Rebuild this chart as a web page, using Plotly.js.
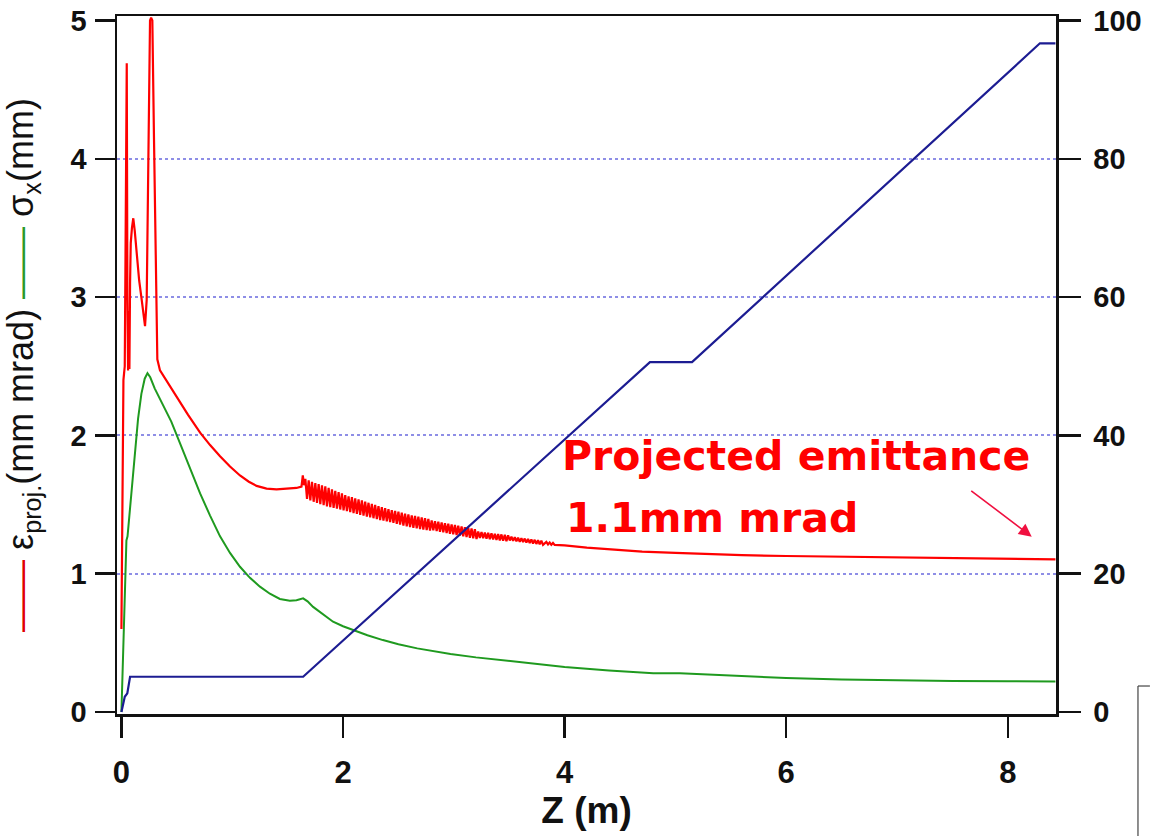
<!DOCTYPE html>
<html>
<head>
<meta charset="utf-8">
<script src="https://cdn.plot.ly/plotly-3.0.1.min.js"></script>
<style>html,body{margin:0;padding:0;background:#fff;}#chart{width:1150px;height:836px;}</style>
</head>
<body>
<div id="chart"></div>
<script>
// ---- data ----
// projected emittance (mm mrad), left axis
const zEps = [0, 0.005, 0.012, 0.018, 0.024, 0.03, 0.036, 0.042, 0.048, 0.054, 0.06, 0.066, 0.072, 0.078, 0.084, 0.095, 0.107, 0.12, 0.138, 0.16, 0.183, 0.2, 0.213, 0.228, 0.243, 0.258, 0.268, 0.279, 0.294, 0.312, 0.324, 0.348, 0.42, 0.5, 0.6, 0.71, 0.8, 0.89, 0.98, 1.07, 1.15, 1.22, 1.31, 1.4, 1.5, 1.58, 1.625, 1.637, 1.648,
  1.660, 1.675, 1.690, 1.705, 1.720, 1.735, 1.750, 1.765, 1.780, 1.795, 1.810, 1.825, 1.840, 1.855, 1.870, 1.885, 1.900, 1.915, 1.930, 1.945, 1.960, 1.975, 1.990, 2.005, 2.020, 2.035, 2.050, 2.065, 2.080, 2.095, 2.110, 2.125, 2.140, 2.155, 2.170, 2.185, 2.200, 2.215, 2.230, 2.245, 2.260, 2.275, 2.290, 2.305, 2.320, 2.335, 2.350, 2.365, 2.380, 2.395, 2.410, 2.425, 2.440, 2.455, 2.470, 2.485, 2.500, 2.515, 2.530, 2.545, 2.560, 2.575, 2.590, 2.605, 2.620, 2.635, 2.650, 2.665, 2.680, 2.695, 2.710, 2.725, 2.740, 2.755, 2.770, 2.785, 2.800, 2.815, 2.830, 2.845, 2.860, 2.875, 2.890, 2.905, 2.920, 2.935, 2.950, 2.965, 2.980, 2.995, 3.010, 3.025, 3.040, 3.055, 3.070, 3.085, 3.100, 3.115, 3.130, 3.145, 3.160, 3.175, 3.190, 3.205, 3.220, 3.235, 3.250, 3.265, 3.280, 3.295, 3.310, 3.325, 3.340, 3.355, 3.370, 3.385, 3.400, 3.415, 3.430, 3.445, 3.460, 3.475, 3.490, 3.505, 3.520, 3.535, 3.550, 3.565, 3.580, 3.595, 3.610, 3.625, 3.640, 3.655, 3.670, 3.685, 3.700, 3.715, 3.730, 3.745, 3.760, 3.775, 3.790, 3.805, 3.820, 3.835, 3.850, 3.865, 3.880, 3.895, 3.910,
  4.0, 4.2, 4.4, 4.7, 5.0, 5.3, 5.6, 6.0, 6.5, 7.0, 7.5, 8.0, 8.43];
const eps = [0.6, 1.4, 2.3, 2.4, 2.45, 2.5, 3.2, 4.2, 4.69, 3.0, 2.47, 2.9, 2.48, 3.1, 3.39, 3.5, 3.57, 3.48, 3.32, 3.12, 2.98, 2.86, 2.79, 2.98, 4.14, 5.0, 5.02, 5.0, 4.14, 2.98, 2.55, 2.47, 2.38, 2.27, 2.15, 2.02, 1.93, 1.85, 1.775, 1.71, 1.665, 1.635, 1.615, 1.61, 1.615, 1.62, 1.63, 1.71, 1.64,
  1.685, 1.540, 1.675, 1.530, 1.665, 1.520, 1.655, 1.511, 1.647, 1.503, 1.639, 1.495, 1.631, 1.487, 1.620, 1.482, 1.610, 1.476, 1.599, 1.470, 1.590, 1.464, 1.580, 1.458, 1.569, 1.452, 1.560, 1.445, 1.553, 1.438, 1.545, 1.432, 1.537, 1.426, 1.530, 1.420, 1.521, 1.413, 1.513, 1.407, 1.505, 1.401, 1.497, 1.395, 1.489, 1.388, 1.481, 1.383, 1.474, 1.378, 1.466, 1.373, 1.460, 1.367, 1.454, 1.361, 1.448, 1.355, 1.441, 1.348, 1.435, 1.342, 1.428, 1.337, 1.422, 1.332, 1.417, 1.328, 1.412, 1.323, 1.407, 1.319, 1.401, 1.315, 1.396, 1.311, 1.385, 1.313, 1.380, 1.308, 1.376, 1.303, 1.371, 1.299, 1.366, 1.294, 1.362, 1.289, 1.357, 1.284, 1.352, 1.279, 1.347, 1.275, 1.342, 1.270, 1.337, 1.265, 1.332, 1.260, 1.328, 1.256, 1.322, 1.251, 1.305, 1.259, 1.301, 1.256, 1.298, 1.253, 1.295, 1.250, 1.292, 1.247, 1.289, 1.244, 1.286, 1.241, 1.284, 1.238, 1.281, 1.235, 1.278, 1.240, 1.267, 1.237, 1.264, 1.234, 1.260, 1.231, 1.257, 1.228, 1.254, 1.225, 1.251, 1.222, 1.248, 1.218, 1.245, 1.215, 1.242, 1.212, 1.239, 1.209, 1.222, 1.230, 1.212, 1.226, 1.209, 1.222, 1.208,
  1.205, 1.188, 1.175, 1.160, 1.150, 1.140, 1.134, 1.128, 1.122, 1.118, 1.114, 1.108, 1.103];

// beam size sigma_x (mm), left axis
const zSig = [0, 0.015, 0.03, 0.045, 0.055, 0.08, 0.12, 0.15, 0.18, 0.21, 0.235, 0.26, 0.3, 0.35, 0.45, 0.53, 0.62, 0.71, 0.8, 0.89, 0.98, 1.07, 1.16, 1.25, 1.34, 1.43, 1.52, 1.58, 1.64, 1.68, 1.73, 1.82, 1.91, 2.0, 2.09, 2.22, 2.36, 2.5, 2.67, 2.82, 2.97, 3.2, 3.5, 3.8, 4.0, 4.4, 4.8, 5.04, 5.3, 5.6, 6.0, 6.5, 7.0, 7.5, 8.0, 8.43];
const sig = [0, 0.45, 0.95, 1.24, 1.27, 1.5, 1.9, 2.12, 2.3, 2.41, 2.45, 2.42, 2.34, 2.26, 2.1, 1.94, 1.76, 1.58, 1.42, 1.27, 1.15, 1.05, 0.97, 0.906, 0.855, 0.817, 0.805, 0.808, 0.822, 0.8, 0.76, 0.705, 0.653, 0.62, 0.593, 0.555, 0.52, 0.49, 0.46, 0.44, 0.42, 0.395, 0.37, 0.345, 0.325, 0.30, 0.28, 0.28, 0.27, 0.255, 0.245, 0.235, 0.228, 0.224, 0.222, 0.22];

// right-axis quantity (0-100)
const zRight = [0, 0.03, 0.053, 0.078, 1.64, 4.77, 5.15, 8.29, 8.43];
const right = [0, 2.2, 2.7, 5.1, 5.1, 50.6, 50.6, 96.7, 96.7];

const leftTicks = [0, 1, 2, 3, 4, 5];
const rightTicks = [0, 20, 40, 60, 80, 100];
const xTicks = [0, 2, 4, 6, 8];
const gridVals = [1, 2, 3, 4];

// ---- layout ----
const yRange = [-0.0145, 5.0325];
const yRange2 = [yRange[0] * 20, yRange[1] * 20];
const tickFont = {family: 'Liberation Sans, Arial, sans-serif', size: 29, color: '#111', weight: 'bold'};

const traces = [
  {x: zSig, y: sig, type: 'scatter', mode: 'lines', line: {color: '#1f9a1f', width: 2}, yaxis: 'y', hoverinfo: 'skip'},
  {x: zEps, y: eps, type: 'scatter', mode: 'lines', line: {color: '#ff0000', width: 2.2}, yaxis: 'y', hoverinfo: 'skip'},
  {x: zRight, y: right, type: 'scatter', mode: 'lines', line: {color: '#1c1c92', width: 2.2}, yaxis: 'y2', hoverinfo: 'skip'},
  {x: [0], y: [null], type: 'scatter', mode: 'lines', yaxis: 'y3', hoverinfo: 'skip'}
];

const layout = {
  width: 1150, height: 836,
  margin: {l: 117, r: 94, t: 16, b: 122},
  paper_bgcolor: '#fff', plot_bgcolor: '#fff',
  showlegend: false,
  xaxis: {
    range: [-0.04, 8.435], tickvals: xTicks, ticks: 'outside', ticklen: 21, tickwidth: 2.5, tickcolor: '#111',
    showline: true, linecolor: '#111', linewidth: 2.5, mirror: true, showgrid: false, zeroline: false,
    tickfont: {family: 'Liberation Sans Narrow, Liberation Sans, Arial, sans-serif', size: 31, color: '#111', weight: 'bold'},
    ticklabelstandoff: 8,
    title: {text: '<b>Z (m)</b>', font: {family: 'Liberation Sans Narrow, Liberation Sans, Arial, sans-serif', size: 37, color: '#111'}, standoff: 7}
  },
  yaxis: {
    range: yRange, tickvals: leftTicks, ticks: 'outside', ticklen: 20, tickwidth: 2.5, tickcolor: '#111',
    showline: true, linecolor: '#111', linewidth: 2.5, showgrid: false, zeroline: false,
    tickfont: tickFont, ticklabelstandoff: 2,
    title: {
      text: '<span style="color:#e00000">——</span> ε<sub>proj.</sub>(mm mrad) <span style="color:#2a9a2a">——</span> σ<sub>x</sub>(mm)',
      font: {family: 'Liberation Sans, Arial, sans-serif', size: 36, color: '#111'}, standoff: 26
    }
  },
  yaxis2: {
    range: yRange2, tickvals: rightTicks, overlaying: 'y', side: 'right', ticks: 'outside', ticklen: 22, tickwidth: 2.5, tickcolor: '#111',
    showline: true, linecolor: '#111', linewidth: 2.5, showgrid: false, zeroline: false,
    tickfont: tickFont, ticklabelstandoff: 7
  },
  yaxis3: {
    range: yRange, tickvals: gridVals, overlaying: 'y', showticklabels: false, ticks: '', showline: false, zeroline: false,
    showgrid: true, gridcolor: '#8e8ee6', gridwidth: 1.8, griddash: 'dot'
  },
  annotations: [
    {x: 3.957, y: 1.851, xref: 'x', yref: 'y', xanchor: 'left', yanchor: 'middle', showarrow: false,
     text: '<b>Projected emittance</b>', font: {family: 'DejaVu Sans, sans-serif', size: 41, color: '#ff0000'}},
    {x: 3.99, y: 1.403, xref: 'x', yref: 'y', xanchor: 'left', yanchor: 'middle', showarrow: false,
     text: '<b>1.1mm mrad</b>', font: {family: 'DejaVu Sans, sans-serif', size: 41, color: '#ff0000'}},
    {x: 8.216, y: 1.268, xref: 'x', yref: 'y', text: '', showarrow: true, ax: -62, ay: -47,
     arrowhead: 2, arrowsize: 1.6, arrowwidth: 1.6, arrowcolor: '#f01040'}
  ],
  shapes: [
    {type: 'line', xref: 'paper', yref: 'paper', x0: 1.0873, x1: 1.1, y0: 0.0401, y1: 0.0401, line: {color: '#444', width: 1.2}},
    {type: 'line', xref: 'paper', yref: 'paper', x0: 1.0873, x1: 1.0873, y0: 0.0401, y1: -0.18, line: {color: '#444', width: 1.2}}
  ]
};

Plotly.newPlot('chart', traces, layout, {staticPlot: true, displayModeBar: false});
</script>
</body>
</html>
